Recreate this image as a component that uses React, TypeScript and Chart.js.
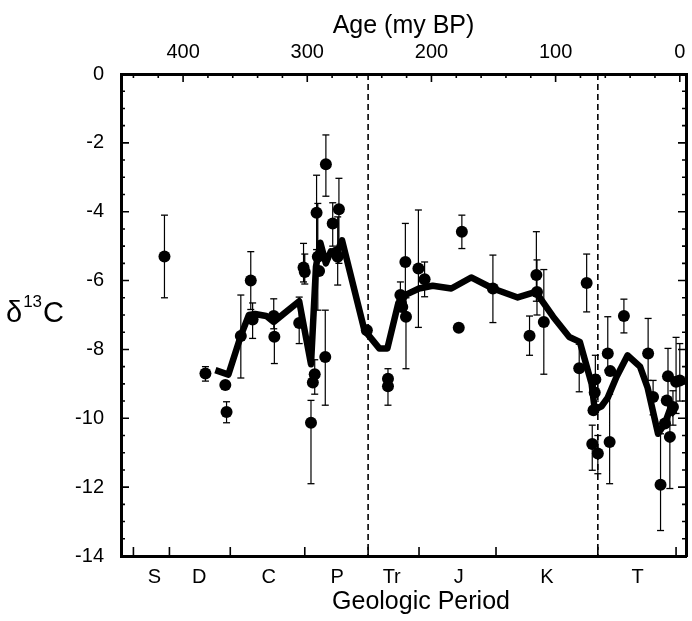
import React, { useEffect, useRef } from 'react';
import { Chart, registerables } from 'chart.js';

Chart.register(...registerables);

const FONT = "'Liberation Sans', Arial, Helvetica, sans-serif";

// Bottom axis: geologic periods
const periodLabels = ['S', 'D', 'C', 'P', 'Tr', 'J', 'K', 'T'];
const periodCenters = [423, 387, 331, 276, 232, 178, 107, 34];
const periodBoundaries = [440, 411, 362, 302, 251, 210, 148, 66, 3];
const dashedAges = [251, 66];

// Top axis (age, my BP) and left axis (delta 13C)
const ageTicks = [400, 300, 200, 100, 0];
const ageMinorTicks = [440, 420, 380, 360, 340, 320, 280, 260, 240, 220, 180, 160, 140, 120, 80, 60, 40, 20];
const deltaTicks = [0, -2, -4, -6, -8, -10, -12, -14];
const deltaMinorTicks = [-0.5, -1, -1.5, -2.5, -3, -3.5, -4.5, -5, -5.5, -6.5, -7, -7.5, -8.5, -9, -9.5, -10.5, -11, -11.5, -12.5, -13, -13.5];

// Measured points with error bars
const pointAges = [415, 382, 366, 365, 353.5, 345.5, 344, 327, 326.5, 306.5, 303, 302, 297, 295.5, 294, 292.5, 291.5, 290.5, 285, 285.5, 279.5, 274.5, 275.5, 277, 252, 235, 235, 225, 224.5, 223.5, 221, 220.5, 210.5, 205.5, 175.5, 178, 150.5, 121, 115.5, 115, 109.5, 81, 75, 70.5, 68, 68.5, 69.5, 66, 58, 56, 56.5, 45, 25.5, 21.5, 15.5, 9.5, 8, 10.5, 5.5, 3, 0, 12];
const pointValues = [-5.3, -8.7, -9.03, -9.82, -7.61, -6.0, -7.13, -7.03, -7.63, -7.23, -5.62, -5.75, -10.13, -8.96, -8.72, -4.03, -5.31, -5.72, -2.62, -8.22, -4.34, -3.93, -5.31, -5.19, -7.44, -8.85, -9.07, -6.42, -6.67, -6.77, -5.46, -7.05, -5.65, -5.96, -4.58, -7.37, -6.23, -7.6, -5.84, -6.33, -7.2, -8.55, -6.07, -10.75, -8.87, -9.25, -9.77, -11.02, -8.12, -8.63, -10.69, -7.03, -8.12, -9.38, -11.93, -8.78, -10.54, -9.48, -9.67, -8.94, -8.9, -10.15];
const errLow = [-6.5, -8.92, null, -10.13, -8.83, -6.84, -7.68, -7.4, -8.41, -7.83, -6.04, -6.1, -11.9, null, -9.3, -5.1, -6.86, null, -3.55, -9.62, -5.0, -5.5, -6.13, null, null, -9.62, null, -6.9, null, null, -7.0, -8.56, -7.36, -6.47, -5.07, null, -7.22, -8.17, -6.6, -7.0, -8.72, -9.23, -6.91, -11.51, -9.5, null, null, -11.61, -8.6, null, -11.9, -7.52, -8.9, -9.9, -13.26, -9.4, -12.04, null, -10.2, -9.86, -9.5, null];
const errHigh = [-4.1, -8.5, null, -9.52, -6.42, -5.16, -6.65, -6.53, -7.0, -6.48, -4.92, -5.23, -9.48, null, -8.3, -2.94, -3.76, null, -1.77, -6.86, -3.74, -3.03, -4.15, null, null, -8.56, null, -6.04, null, null, -4.34, -6.5, -3.95, -5.46, -4.1, null, -5.26, -7.03, -4.58, -5.4, -5.68, -7.85, -5.23, -10.2, -8.17, null, null, -10.5, -7.05, null, -9.3, -6.54, -7.1, -8.9, -10.45, -7.97, -9.9, null, -9.2, -7.65, -7.83, null];

// Smoothed trend curve
const lineAges = [374, 363.5, 353.5, 347, 342, 333, 327, 306.5, 297, 293, 289.5, 285, 281, 277, 272, 254, 242, 235.5, 227, 220, 210, 199, 184, 168, 150.5, 130.5, 116, 102, 89, 80.5, 71, 68.5, 63, 58, 51, 42, 32, 26, 17.5, 12, 8, 4];
const lineValues = [-8.6, -8.73, -7.6, -7.0, -6.97, -7.03, -7.2, -6.6, -8.43, -5.6, -4.9, -5.5, -5.15, -5.25, -4.83, -7.44, -7.97, -7.97, -6.7, -6.4, -6.23, -6.15, -6.23, -5.91, -6.23, -6.49, -6.33, -7.05, -7.64, -7.78, -9.0, -9.75, -9.65, -9.4, -8.8, -8.17, -8.5, -9.1, -10.45, -10.15, -9.75, -9.9];

const AGE_MIN = -5;
const AGE_MAX = 450;
const DELTA_MIN = -14;
const DELTA_MAX = 0;

const tickMarksPlugin = {
  id: 'tickMarks',
  afterDraw(chart: any) {
    const { ctx, chartArea: a } = chart;
    const sy = chart.scales.y;
    const sx = chart.scales.x;
    ctx.save();
    ctx.strokeStyle = '#000';
    ctx.lineWidth = 1.6;
    ctx.beginPath();
    const yTick = (v: number, len: number) => {
      const p = sy.getPixelForValue(v);
      ctx.moveTo(a.left, p); ctx.lineTo(a.left + len, p);
      ctx.moveTo(a.right, p); ctx.lineTo(a.right - len, p);
    };
    deltaTicks.forEach((v) => yTick(v, 8));
    deltaMinorTicks.forEach((v) => yTick(v, 4));
    const xTopTick = (v: number, len: number) => {
      const p = sx.getPixelForValue(v);
      ctx.moveTo(p, a.top); ctx.lineTo(p, a.top + len);
    };
    ageTicks.forEach((v) => xTopTick(v, 8));
    ageMinorTicks.forEach((v) => xTopTick(v, 4));
    periodBoundaries.forEach((v) => {
      const p = sx.getPixelForValue(v);
      ctx.moveTo(p, a.bottom); ctx.lineTo(p, a.bottom - 9);
    });
    ctx.stroke();

    ctx.fillStyle = '#000';
    // bottom axis title
    ctx.font = `25px ${FONT}`;
    ctx.textAlign = 'center';
    ctx.textBaseline = 'middle';
    ctx.fillText('Geologic Period', 421, 602);

    // vertical axis label  δ13C
    ctx.textBaseline = 'alphabetic';
    ctx.textAlign = 'left';
    ctx.font = `29px ${FONT}`;
    ctx.fillText('δ', 6, 322);
    const dW = ctx.measureText('δ').width;
    ctx.font = `17px ${FONT}`;
    ctx.fillText('13', 6 + dW + 1, 307);
    const nW = ctx.measureText('13').width;
    ctx.font = `29px ${FONT}`;
    ctx.fillText('C', 6 + dW + 1 + nW + 1, 322);
    ctx.restore();
  },
};

export default function App() {
  const canvasRef = useRef<HTMLCanvasElement | null>(null);

  useEffect(() => {
    if (!canvasRef.current) return;

    const points = pointAges.map((x, i) => ({ x, y: pointValues[i] }));
    const errSegments: any[] = [];
    const errCaps: any[] = [];
    pointAges.forEach((x, i) => {
      const lo = errLow[i];
      const hi = errHigh[i];
      if (lo === null || hi === null) return;
      errSegments.push({ x, y: lo }, { x, y: hi }, { x, y: null });
      errCaps.push({ x, y: lo }, { x, y: hi });
    });
    const trend = lineAges.map((x, i) => ({ x, y: lineValues[i] }));
    const dashed: any[] = [];
    dashedAges.forEach((x) => {
      dashed.push({ x, y: DELTA_MAX }, { x, y: DELTA_MIN }, { x, y: null });
    });

    const tickFont = { family: FONT, size: 20 };
    const titleFont = { family: FONT, size: 25 };

    const chart = new Chart(canvasRef.current, {
      type: 'scatter',
      data: {
        datasets: [
          {
            label: 'boundaries',
            data: dashed,
            showLine: true,
            borderColor: '#000',
            borderWidth: 1.6,
            borderDash: [6, 4],
            pointRadius: 0,
            spanGaps: false,
          },
          {
            label: 'errors',
            data: errSegments,
            showLine: true,
            borderColor: '#000',
            borderWidth: 1.2,
            pointRadius: 0,
            spanGaps: false,
          },
          {
            label: 'caps',
            data: errCaps,
            pointStyle: 'line',
            pointRadius: 3.5,
            borderColor: '#000',
            borderWidth: 1.3,
          },
          {
            label: 'trend',
            data: trend,
            showLine: true,
            borderColor: '#000',
            borderWidth: 6.5,
            borderJoinStyle: 'round',
            borderCapStyle: 'butt',
            pointRadius: 0,
            tension: 0,
          },
          {
            label: 'points',
            data: points,
            pointRadius: 6,
            pointStyle: 'circle',
            backgroundColor: '#000',
            borderColor: '#000',
            borderWidth: 0,
          },
        ],
      },
      options: {
        responsive: false,
        devicePixelRatio: 1,
        animation: false,
        events: [],
        layout: { padding: 0 },
        plugins: {
          legend: { display: false },
          tooltip: { enabled: false },
        },
        scales: {
          x: {
            type: 'linear',
            position: 'bottom',
            reverse: true,
            min: AGE_MIN,
            max: AGE_MAX,
            afterBuildTicks: (s: any) => {
              s.ticks = periodCenters.map((value) => ({ value }));
            },
            ticks: {
              autoSkip: false,
              maxRotation: 0,
              padding: 1,
              color: '#000',
              font: tickFont,
              callback: (_v: any, i: number) => periodLabels[i],
            },
            grid: { display: false },
            border: { display: true, color: '#000', width: 3 },
            afterFit: (s: any) => {
              s.height = 65;
            },
          },
          x2: {
            type: 'linear',
            position: 'top',
            reverse: true,
            min: AGE_MIN,
            max: AGE_MAX,
            afterBuildTicks: (s: any) => {
              s.ticks = ageTicks.map((value) => ({ value }));
            },
            ticks: {
              autoSkip: false,
              maxRotation: 0,
              padding: 2,
              color: '#000',
              font: tickFont,
              callback: (v: any) => String(v),
            },
            grid: { display: false },
            border: { display: true, color: '#000', width: 3 },
            title: {
              display: true,
              text: 'Age (my BP)',
              color: '#000',
              font: titleFont,
              padding: { top: 11, bottom: 0 },
            },
            afterFit: (s: any) => {
              s.height = 74;
            },
          },
          y: {
            type: 'linear',
            position: 'left',
            min: DELTA_MIN,
            max: DELTA_MAX,
            afterBuildTicks: (s: any) => {
              s.ticks = deltaTicks.map((value) => ({ value }));
            },
            ticks: {
              autoSkip: false,
              padding: 9,
              color: '#000',
              font: tickFont,
              callback: (v: any) => String(v),
            },
            grid: { display: false },
            border: { display: true, color: '#000', width: 3 },
            afterFit: (s: any) => {
              s.width = 121;
            },
          },
          y2: {
            type: 'linear',
            position: 'right',
            min: DELTA_MIN,
            max: DELTA_MAX,
            ticks: { display: false },
            grid: { display: false },
            border: { display: true, color: '#000', width: 3 },
            afterFit: (s: any) => {
              s.width = 5;
            },
          },
        },
      } as any,
      plugins: [tickMarksPlugin],
    });

    return () => {
      chart.destroy();
    };
  }, []);

  return (
    <div style={{ position: 'absolute', left: 0, top: 0, width: 692, height: 621, background: '#fff' }}>
      <canvas ref={canvasRef} width={692} height={621} style={{ width: 692, height: 621, display: 'block' }} />
    </div>
  );
}
